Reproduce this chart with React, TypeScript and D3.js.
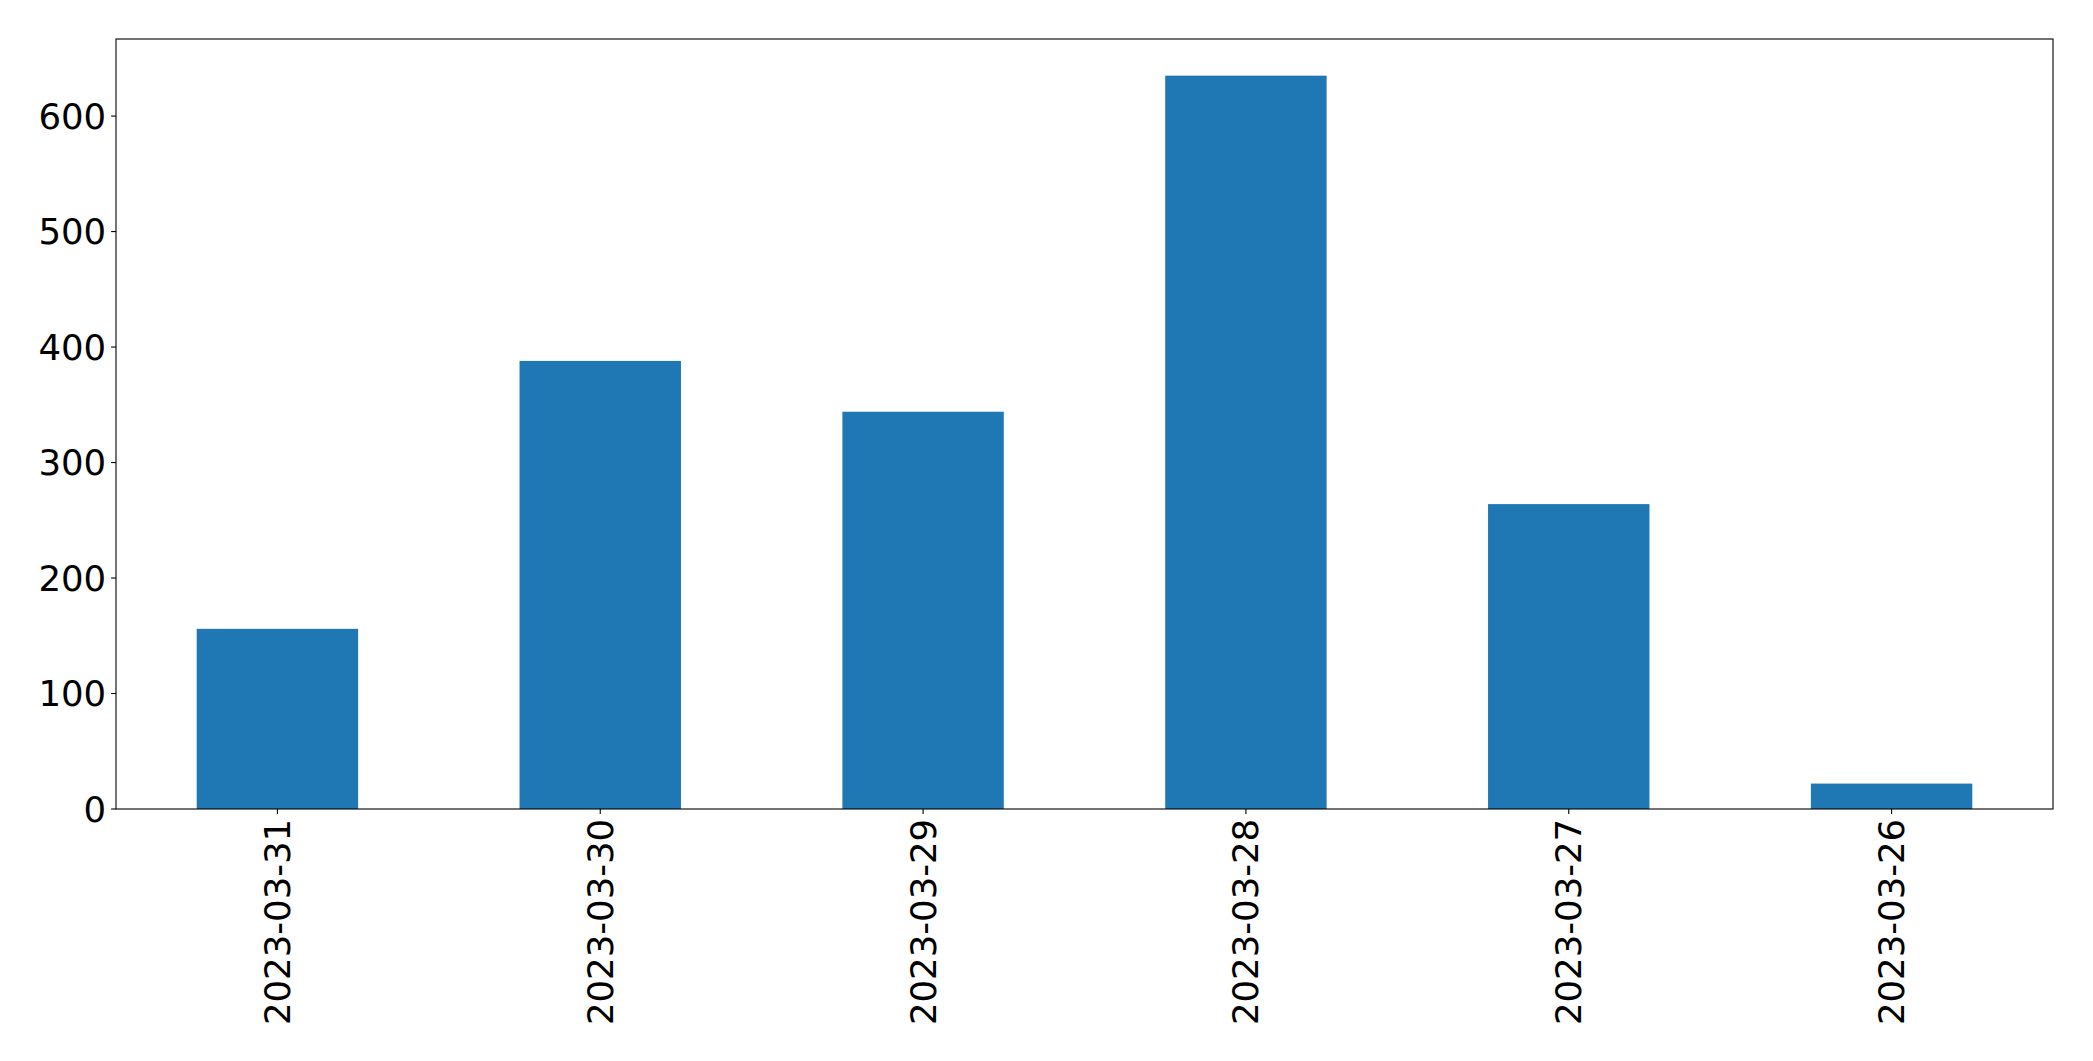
import React from "react";
import * as d3 from "d3";

const categories: string[] = ["2023-03-31", "2023-03-30", "2023-03-29", "2023-03-28", "2023-03-27", "2023-03-26"];
const values: number[] = [156, 388, 344, 635, 264, 22];
const yTicks: number[] = [0, 100, 200, 300, 400, 500, 600];

const W = 2093;
const H = 1061;
const margin = { left: 116, right: 2053, top: 39, bottom: 809 };

export default function App() {
  const x = d3
    .scaleLinear()
    .domain([-0.5, categories.length - 0.5])
    .range([margin.left, margin.right]);
  const yMax = d3.max(values)! * 1.05;
  const y = d3.scaleLinear().domain([0, yMax]).range([margin.bottom, margin.top]);
  const barW = x(0.25) - x(-0.25);
  const font = "'DejaVu Sans', sans-serif";
  const fs = 35.5;

  return (
    <svg
      width={W}
      height={H}
      style={{ position: "absolute", left: 0, top: 0, background: "#fff" }}
    >
      {values.map((v, i) => (
        <rect
          key={i}
          x={x(i) - barW / 2}
          y={y(v)}
          width={barW}
          height={y(0) - y(v)}
          fill="#1f77b4"
        />
      ))}
      <rect
        x={margin.left}
        y={margin.top}
        width={margin.right - margin.left}
        height={margin.bottom - margin.top}
        fill="none"
        stroke="#000"
        strokeWidth={1.1}
      />
      {yTicks.map((t) => (
        <g key={t}>
          <line x1={margin.left - 4.9} x2={margin.left} y1={y(t)} y2={y(t)} stroke="#000" strokeWidth={1.1} />
          <text
            x={margin.left - 9.8}
            y={y(t)}
            textAnchor="end"
            dominantBaseline="central"
            fontFamily={font}
            fontSize={fs}
            fill="#000"
          >
            {t}
          </text>
        </g>
      ))}
      {categories.map((c, i) => (
        <g key={c}>
          <line x1={x(i)} x2={x(i)} y1={margin.bottom} y2={margin.bottom + 4.9} stroke="#000" strokeWidth={1.1} />
          <text
            transform={`translate(${x(i)},${margin.bottom + 9.8}) rotate(-90)`}
            textAnchor="end"
            dominantBaseline="central"
            fontFamily={font}
            fontSize={fs}
            fill="#000"
          >
            {c}
          </text>
        </g>
      ))}
    </svg>
  );
}
